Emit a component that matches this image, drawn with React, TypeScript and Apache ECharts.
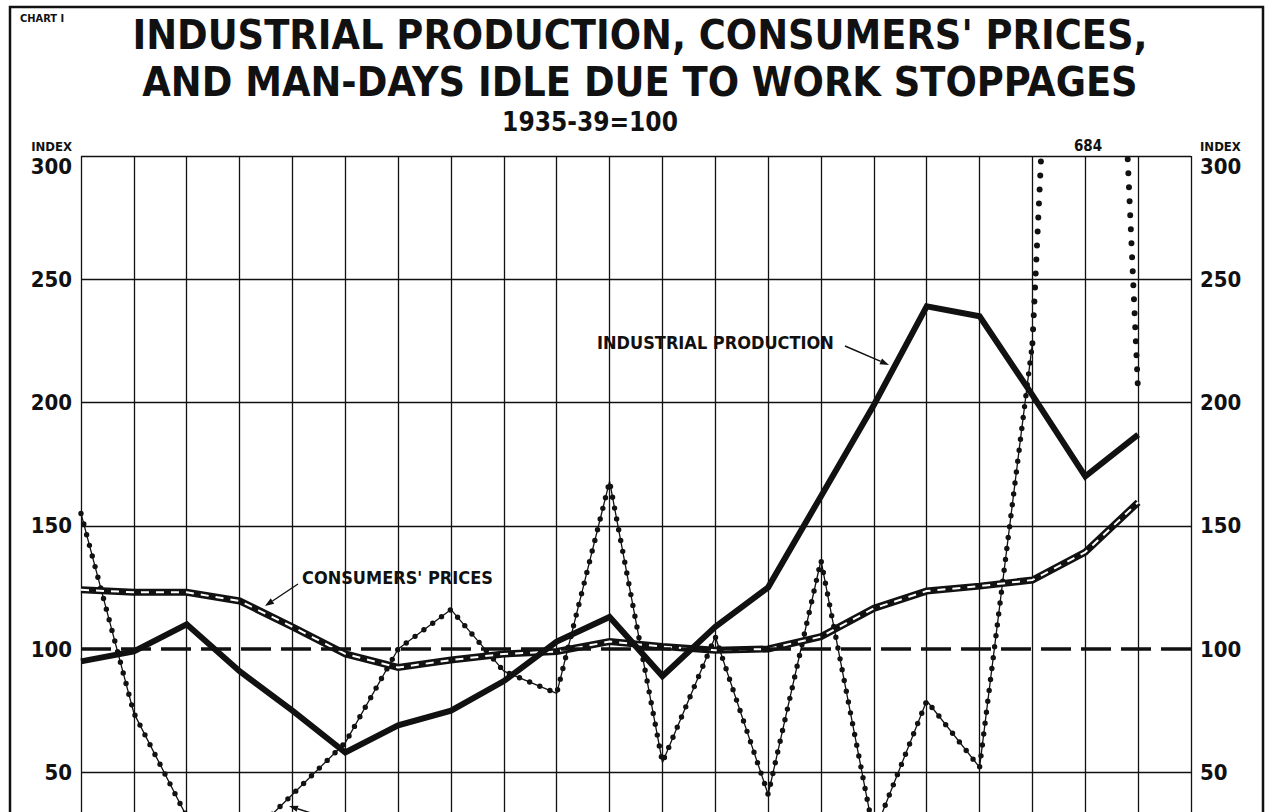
import React, { useEffect, useRef } from "react";
import * as echarts from "echarts";

// ---- data (1935-39 = 100) ----
const YEARS = [1927, 1928, 1929, 1930, 1931, 1932, 1933, 1934, 1935, 1936, 1937, 1938, 1939, 1940, 1941, 1942, 1943, 1944, 1945, 1946, 1947];
const INDUSTRIAL_PRODUCTION = [95, 99, 110, 91, 75, 58, 69, 75, 87, 103, 113, 89, 109, 125, 162, 199, 239, 235, 203, 170, 187];
const CONSUMERS_PRICES = [124, 123, 123, 119.5, 109, 98, 92.5, 95.5, 98, 99, 103, 101, 99.5, 100, 105, 116.5, 123.5, 125.5, 128, 139.3, 159.5];
const MAN_DAYS_IDLE = [155, 74, 32, 20, 41, 62, 100, 116, 91, 82, 168, 54, 105, 41, 136, 25, 79, 52, 224, 684, 204];
const Y_TICKS = [0, 50, 100, 150, 200, 250, 300];
const BASE_INDEX = 100;
const X_MIN = 1927;
const X_MAX = 1948;
const OFF_SCALE_FROM = 18; // index of 1945: segments after it are drawn as dots only
const TITLE_LINES = ["INDUSTRIAL PRODUCTION, CONSUMERS' PRICES,", "AND MAN-DAYS IDLE DUE TO WORK STOPPAGES"];

const INK = "#111";
const FONT = "'DejaVu Sans Condensed', 'DejaVu Sans', sans-serif";

function pairs(values: number[], from = 0, to = values.length) {
  return YEARS.slice(from, to).map((y, i) => [y, values[from + i]]);
}

function arrow(x1: number, y1: number, x2: number, y2: number) {
  const dx = x2 - x1;
  const dy = y2 - y1;
  const len = Math.sqrt(dx * dx + dy * dy);
  const ux = dx / len;
  const uy = dy / len;
  const hl = 9;
  const hw = 3.2;
  const bx = x2 - ux * hl;
  const by = y2 - uy * hl;
  return [
    { type: "line", shape: { x1, y1, x2: bx, y2: by }, style: { stroke: INK, lineWidth: 1.4 } },
    {
      type: "polygon",
      shape: { points: [[x2, y2], [bx - uy * hw, by + ux * hw], [bx + uy * hw, by - ux * hw]] },
      style: { fill: INK },
    },
  ];
}

export default function App() {
  const ref = useRef<HTMLDivElement>(null);

  useEffect(() => {
    if (!ref.current) return;
    const chart = echarts.init(ref.current, null, { renderer: "svg" });
    const gridLeft = 81;
    const gridTop = 156;
    const gridWidth = 1110;
    const gridHeight = 739.5;
    const yMax = Y_TICKS[Y_TICKS.length - 1];
    const splitColors = Y_TICKS.map((t) => (t === BASE_INDEX ? "rgba(0,0,0,0)" : INK));
    const tickLabel = {
      show: true,
      margin: 9,
      showMaxLabel: false,
      showMinLabel: false,
      color: INK,
      fontFamily: FONT,
      fontWeight: "bold",
      fontSize: 22,
    };

    const option: any = {
      animation: false,
      backgroundColor: "#fff",
      grid: { left: gridLeft, top: gridTop, width: gridWidth, height: gridHeight, containLabel: false },
      xAxis: {
        type: "value",
        min: X_MIN,
        max: X_MAX,
        interval: 1,
        axisLine: { show: false },
        axisTick: { show: false },
        axisLabel: { show: false },
        splitLine: { show: true, lineStyle: { color: INK, width: 1.3 } },
      },
      yAxis: [
        {
          type: "value",
          position: "left",
          min: Y_TICKS[0],
          max: yMax,
          interval: 50,
          axisLine: { show: false },
          axisTick: { show: false },
          axisLabel: tickLabel,
          splitLine: { show: true, lineStyle: { color: splitColors, width: 1.4 } },
        },
        {
          type: "value",
          position: "right",
          min: Y_TICKS[0],
          max: yMax,
          interval: 50,
          axisLine: { show: false },
          axisTick: { show: false },
          axisLabel: tickLabel,
          splitLine: { show: false },
        },
      ],
      series: [
        {
          name: "Man-days idle line",
          type: "line",
          data: pairs(MAN_DAYS_IDLE, 0, OFF_SCALE_FROM + 1),
          symbol: "none",
          lineStyle: { color: INK, width: 1.3 },
          markLine: {
            silent: true,
            symbol: ["none", "none"],
            label: { show: false },
            lineStyle: { color: INK, width: 3.5, type: [30, 10] },
            data: [{ yAxis: BASE_INDEX }],
          },
        },
        {
          name: "Man-days idle beads",
          type: "line",
          data: pairs(MAN_DAYS_IDLE, 0, OFF_SCALE_FROM + 1),
          symbol: "none",
          lineStyle: { color: INK, width: 5.4, type: [0, 11], cap: "round" },
        },
        {
          name: "Man-days idle off scale",
          type: "line",
          data: pairs(MAN_DAYS_IDLE, OFF_SCALE_FROM),
          symbol: "none",
          lineStyle: { color: INK, width: 6, type: [0, 14], cap: "round" },
        },
        {
          name: "Consumers' prices",
          type: "line",
          data: pairs(CONSUMERS_PRICES),
          symbol: "none",
          lineStyle: { color: INK, width: 7, join: "miter" },
        },
        {
          name: "Consumers' prices inner",
          type: "line",
          data: pairs(CONSUMERS_PRICES),
          symbol: "none",
          lineStyle: { color: "#fff", width: 2, type: [8, 7] },
        },
        {
          name: "Industrial production",
          type: "line",
          data: pairs(INDUSTRIAL_PRODUCTION),
          symbol: "none",
          lineStyle: { color: INK, width: 6, join: "miter" },
        },
      ],
      graphic: [
        {
          type: "rect",
          shape: { x: 10, y: 7, width: 1253, height: 980 },
          style: { fill: "none", stroke: INK, lineWidth: 2.5 },
          silent: true,
        },
        {
          type: "text",
          x: 20,
          y: 18,
          style: { text: "CHART I", fill: INK, font: `bold 11px ${FONT}`, textVerticalAlign: "middle" },
        },
        {
          type: "text",
          x: 640,
          y: 35,
          style: {
            text: TITLE_LINES[0],
            fill: INK,
            font: `bold 41px ${FONT}`,
            textAlign: "center",
            textVerticalAlign: "middle",
          },
        },
        {
          type: "text",
          x: 640,
          y: 82,
          style: {
            text: TITLE_LINES[1],
            fill: INK,
            font: `bold 41px ${FONT}`,
            textAlign: "center",
            textVerticalAlign: "middle",
          },
        },
        {
          type: "text",
          x: 590,
          y: 122,
          style: {
            text: "1935-39=100",
            fill: INK,
            font: `bold 26px ${FONT}`,
            textAlign: "center",
            textVerticalAlign: "middle",
          },
        },
        {
          type: "text",
          x: 72,
          y: 146,
          style: { text: "INDEX", fill: INK, font: `bold 13px ${FONT}`, textAlign: "right", textVerticalAlign: "middle" },
        },
        {
          type: "text",
          x: 72,
          y: 166,
          style: { text: String(yMax), fill: INK, font: `bold 22px ${FONT}`, textAlign: "right", textVerticalAlign: "middle" },
        },
        {
          type: "text",
          x: 1200,
          y: 146,
          style: { text: "INDEX", fill: INK, font: `bold 13px ${FONT}`, textAlign: "left", textVerticalAlign: "middle" },
        },
        {
          type: "text",
          x: 1200,
          y: 166,
          style: { text: String(yMax), fill: INK, font: `bold 22px ${FONT}`, textAlign: "left", textVerticalAlign: "middle" },
        },
        {
          type: "rect",
          shape: { x: 1066, y: 138, width: 44, height: 17 },
          style: { fill: "#fff" },
        },
        {
          type: "text",
          x: 1088,
          y: 146,
          style: {
            text: String(MAN_DAYS_IDLE[OFF_SCALE_FROM + 1]),
            fill: INK,
            font: `bold 15px ${FONT}`,
            textAlign: "center",
            textVerticalAlign: "middle",
          },
        },
        {
          type: "text",
          x: 597,
          y: 342,
          style: { text: "INDUSTRIAL PRODUCTION", fill: INK, font: `bold 18px ${FONT}`, textVerticalAlign: "middle" },
        },
        ...arrow(845, 346, 889, 365),
        {
          type: "text",
          x: 302,
          y: 577,
          style: { text: "CONSUMERS' PRICES", fill: INK, font: `bold 18px ${FONT}`, textVerticalAlign: "middle" },
        },
        ...arrow(298, 584, 265, 606),
        ...arrow(314, 814, 289, 806),
      ],
    };

    chart.setOption(option);
    return () => chart.dispose();
  }, []);

  return (
    <div style={{ position: "fixed", left: 0, top: 0, width: 1266, height: 812, overflow: "hidden", background: "#fff" }}>
      <div ref={ref} style={{ width: 1266, height: 1000 }} />
    </div>
  );
}
